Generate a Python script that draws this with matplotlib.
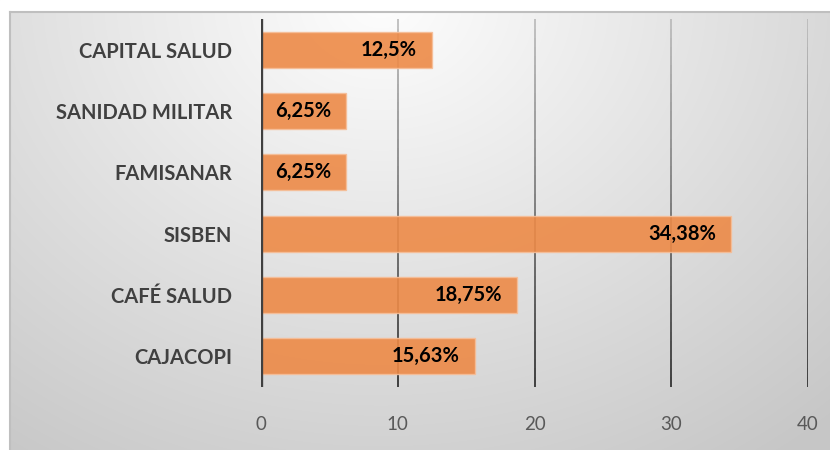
import numpy as np
import matplotlib
matplotlib.use("Agg")
import matplotlib.pyplot as plt
from matplotlib.patches import Rectangle
from matplotlib.collections import LineCollection

# datos
categorias = ["CAJACOPI", "CAFÉ SALUD", "SISBEN", "FAMISANAR", "SANIDAD MILITAR", "CAPITAL SALUD"]
porcentajes = [15.63, 18.75, 34.38, 6.25, 6.25, 12.5]
etiquetas = ["15,63%", "18,75%", "34,38%", "6,25%", "6,25%", "12,5%"]
ticks_x = [0, 10, 20, 30, 40]

W, H = 830, 450
fig = plt.figure(figsize=(W / 100, H / 100), dpi=100)
fig.patch.set_facecolor("white")

# fondo con degradado (area del grafico)
bg = fig.add_axes([0, 0, 1, 1], zorder=0)
yy, xx = np.mgrid[0:H, 0:W]
d = np.sqrt(((xx - 380) / 620.0) ** 2 + ((yy - 0) / 520.0) ** 2)
g = np.clip(0.995 - 0.20 * d, 0.78, 1.0)
img = np.dstack([g, g, g])
bg.imshow(img, extent=[0, W, H, 0], aspect="auto")
bg.set_xlim(0, W)
bg.set_ylim(H, 0)
bg.add_patch(Rectangle((0, 0), W, 10.5, color="white", zorder=2))
bg.add_patch(Rectangle((0, 0), 8.5, H, color="white", zorder=2))
bg.plot([9.5, W], [11.5, 11.5], color="#bfbfbf", lw=1.5, zorder=3)
bg.plot([9.5, 9.5], [11.5, H], color="#bfbfbf", lw=1.5, zorder=3)
bg.axis("off")

ax = fig.add_axes([261 / W, 1 - 386.6 / H, (808 - 261) / W, (386.6 - 19.4) / H], zorder=1)
ax.patch.set_alpha(0)

y = np.arange(len(categorias))
ymin, ymax = -0.5, len(categorias) - 0.5

# lineas de cuadricula con degradado (claras arriba, oscuras abajo)
n = 40
edges = np.linspace(ymax, ymin, n + 1)
for t in ticks_x[1:]:
    segs = [[(t, edges[i]), (t, edges[i + 1])] for i in range(n)]
    shades = np.linspace(0.72, 0.15, n)
    cols = [(s, s, s) for s in shades]
    ax.add_collection(LineCollection(segs, colors=cols, linewidths=1.2, zorder=1))

ax.barh(y, porcentajes, height=0.59, color="#ED8A47", alpha=0.9,
        edgecolor="#F6BE98", linewidth=1.0, zorder=2)
ax.axvline(0, color="#404040", lw=2.4, zorder=3)

for yi, v, lab in zip(y, porcentajes, etiquetas):
    ax.text(v - 1.1, yi, lab, ha="right", va="center", fontsize=14.5,
            fontweight="bold", family="Lato", color="black", zorder=4)

ax.set_xlim(0, 40)
ax.set_ylim(ymin, ymax)
ax.set_xticks(ticks_x)
ax.set_xticklabels([str(t) for t in ticks_x], fontsize=13.5, family="Lato", color="#595959")
ax.set_yticks(y)
ax.set_yticklabels(categorias, fontsize=14.5, fontweight="bold", family="Lato", color="#404040")
ax.tick_params(axis="both", length=0)
ax.tick_params(axis="x", pad=21)
ax.tick_params(axis="y", pad=21)
for s in ax.spines.values():
    s.set_visible(False)

fig.savefig("out.png", dpi=100)
